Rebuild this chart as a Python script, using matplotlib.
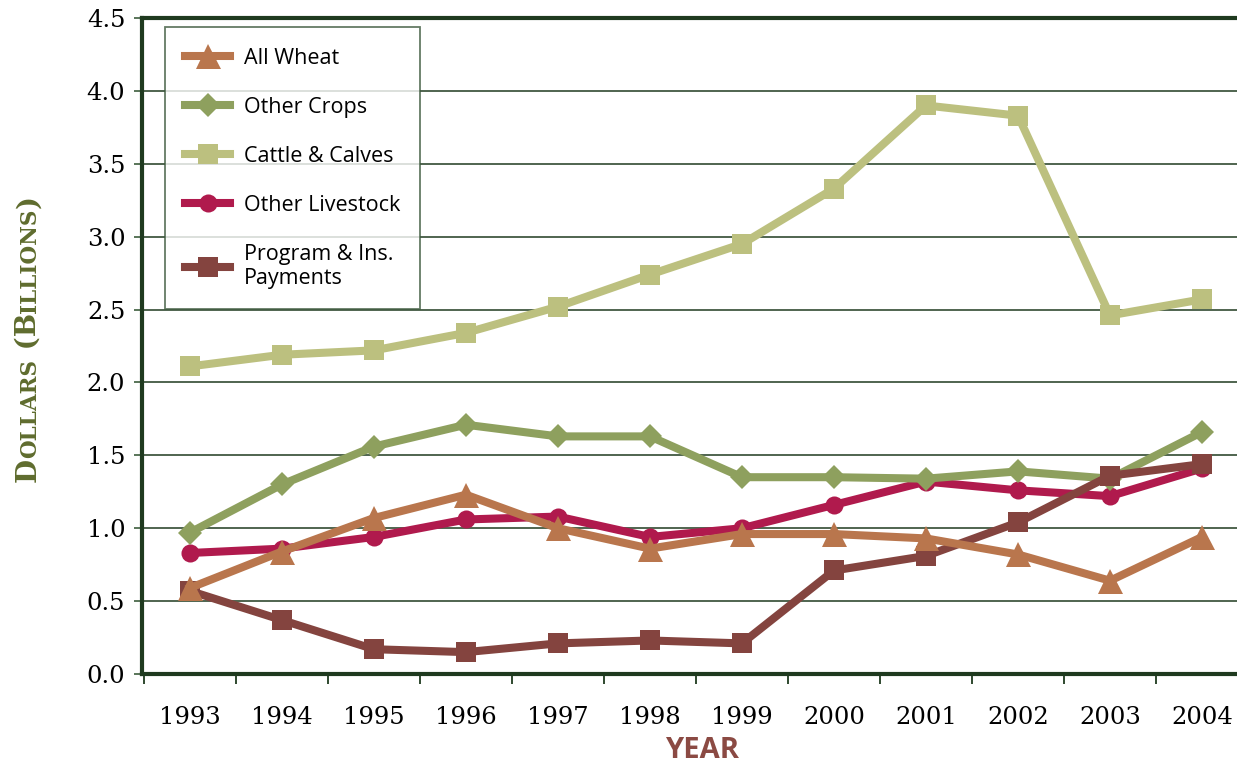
import matplotlib
matplotlib.use("Agg")
import matplotlib.pyplot as plt

years = [1993, 1994, 1995, 1996, 1997, 1998, 1999, 2000, 2001, 2002, 2003, 2004]
all_wheat = [0.59, 0.84, 1.07, 1.23, 1.00, 0.86, 0.96, 0.96, 0.93, 0.82, 0.64, 0.94]
other_crops = [0.97, 1.30, 1.56, 1.71, 1.63, 1.63, 1.35, 1.35, 1.34, 1.39, 1.34, 1.66]
cattle_calves = [2.11, 2.19, 2.22, 2.34, 2.52, 2.74, 2.95, 3.33, 3.90, 3.83, 2.46, 2.57]
other_livestock = [0.83, 0.86, 0.94, 1.06, 1.08, 0.94, 1.00, 1.16, 1.32, 1.26, 1.22, 1.41]
program_payments = [0.57, 0.37, 0.17, 0.15, 0.21, 0.23, 0.21, 0.71, 0.81, 1.04, 1.36, 1.44]
y_ticks = [0.0, 0.5, 1.0, 1.5, 2.0, 2.5, 3.0, 3.5, 4.0, 4.5]

C_WHEAT = "#B9764D"
C_CROPS = "#8EA05E"
C_CATTLE = "#BCC07F"
C_LIVE = "#B01A4D"
C_PROG = "#84443F"
C_SPINE = "#1F3A1F"

W, H = 1237, 763
fig = plt.figure(figsize=(W / 100, H / 100), dpi=100)
ax = fig.add_axes([142 / W, (H - 674) / H, (W - 142) / W, (674 - 18) / H])

lw = 5.8
series = [
    ("Cattle & Calves", cattle_calves, C_CATTLE, "s", 15, 2),
    ("Other Livestock", other_livestock, C_LIVE, "o", 13, 3),
    ("Other Crops", other_crops, C_CROPS, "D", 12, 4),
    ("Program & Ins.\nPayments", program_payments, C_PROG, "s", 15, 5),
    ("All Wheat", all_wheat, C_WHEAT, "^", 18, 6),
]
handles = {}
for label, vals, col, mk, ms, z in series:
    ln, = ax.plot(years, vals, color=col, lw=lw, marker=mk, ms=ms,
                  mec=col, mfc=col, mew=0, zorder=z, label=label,
                  solid_joinstyle="miter")
    handles[label] = ln

ax.set_xlim(1992.48, 2004.38)
ax.set_ylim(0, 4.5)
ax.set_yticks(y_ticks)
ax.set_yticklabels([f"{v:.1f}" for v in y_ticks])
ax.yaxis.grid(True, color=C_SPINE, lw=1.1, zorder=1)
ax.set_axisbelow(True)

ax.set_xticks(years)
ax.set_xticklabels([str(y) for y in years])
ax.set_xticks([y + 0.5 for y in [1992] + years[:-1]], minor=True)
ax.tick_params(axis="x", which="major", length=0, pad=23, labelsize=17.5)
ax.tick_params(axis="x", which="minor", length=7, width=1.3, color=C_SPINE, direction="out")
ax.tick_params(axis="y", which="major", length=6, width=1.3, color="#4C6A4C",
               direction="out", pad=6, labelsize=17.5)
for t in ax.get_xticklabels() + ax.get_yticklabels():
    t.set_family("DejaVu Serif")

for s in ["left", "bottom", "top"]:
    ax.spines[s].set_color(C_SPINE)
    ax.spines[s].set_linewidth(3)
ax.spines["right"].set_visible(False)

order = ["All Wheat", "Other Crops", "Cattle & Calves", "Other Livestock", "Program & Ins.\nPayments"]
leg = ax.legend([handles[k] for k in order], order, loc="upper left",
                bbox_to_anchor=(0.021, 0.986), frameon=True, fancybox=False,
                prop={"family": "Open Sans", "size": 15.5}, handlelength=2.05,
                handletextpad=0.65, labelspacing=1.3, borderpad=0.95,
                borderaxespad=0, markerscale=1.0)
leg.get_frame().set_edgecolor("#3E5A3E")
leg.get_frame().set_linewidth(1.3)
leg.set_zorder(10)

fig.text(702 / W, 1 - 750 / H, "YEAR", ha="center", va="center",
         family="Open Sans", weight="bold", size=21, color="#8B4A43")

# small-caps y label
pieces = [("D", 20), ("OLLARS", 15.5), (" (B", 20), ("ILLIONS", 15.5), (")", 20)]
renderer = fig.canvas.get_renderer()
ypos = 482
xbase = 36
for txt, sz in pieces:
    t = fig.text(xbase / W, 1 - ypos / H, txt, rotation=90, rotation_mode="anchor",
                 ha="left", va="baseline", family="DejaVu Serif", weight="bold",
                 size=sz, color="#5F6C2E")
    ext = t.get_window_extent(renderer)
    ypos -= ext.height

fig.savefig("out.png", dpi=100)
